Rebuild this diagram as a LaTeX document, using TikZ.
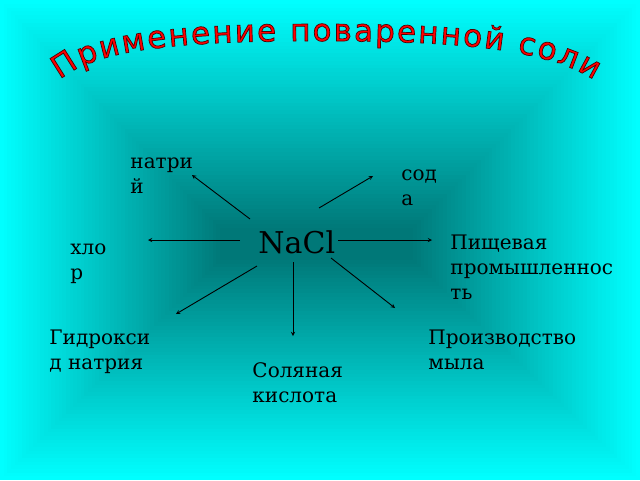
\documentclass[tikz,border=0pt]{standalone}
\usepackage{fontspec}
\setmainfont{DejaVu Serif}
\newfontfamily\titlefont{DejaVu Sans}
\usetikzlibrary{decorations.text}
\definecolor{bgcore}{RGB}{0,120,120}
\definecolor{bgedge}{RGB}{0,255,255}
\definecolor{titlered}{RGB}{255,0,0}
\newcommand{\outlinetext}{\special{pdf:literal direct 0.3 0 0 RG 2 Tr 0.7 w}}

\begin{document}
\begin{tikzpicture}[>=stealth, x=1pt, y=-1pt, line width=0.9pt,
    lbl/.style={anchor=base west, inner sep=0pt, align=left, font=\fontsize{20}{25}\selectfont}]
        \useasboundingbox (0,0) rectangle (640,480);
        \foreach \i in {0,...,60}{
          \pgfmathsetmacro\fr{\i/60}
          \pgfmathsetmacro\pc{100*\fr}
          \fill[bgcore!\pc!bgedge] (220*\fr,228*\fr) rectangle (640-227*\fr,480-220*\fr);
        }
        \path[decorate, decoration={text along path, text align=fit to path,
            text={|\titlefont\fontsize{31}{31}\selectfont\color{titlered}\outlinetext|Применение поваренной соли}}]
          (60,80) .. controls (96,49) and (180,41) .. (320,41) .. controls (460,41) and (546,49) .. (594,80);
        \node[anchor=base west, inner sep=0pt, font=\fontsize{30}{36}\selectfont] (nacl) at (258,253) {NaCl};
        \node[lbl] (natrij) at (130,193) {натри\\й};
        \node[lbl] (soda) at (401,205) {сод\\а};
        \node[lbl] (hlor) at (70,279) {хло\\р};
        \node[lbl] (pishch) at (450,299) {Пищевая\\промышленнос\\ть};
        \node[lbl] (gidr) at (49,369) {Гидрокси\\д натрия};
        \node[lbl] (kisl) at (252,402) {Соляная\\кислота};
        \node[lbl] (mylo) at (428,369) {Производство\\мыла};
        \coordinate (a1) at (250,219); \coordinate (b1) at (192,175);
        \coordinate (a2) at (319,208); \coordinate (b2) at (373,176);
        \coordinate (a3) at (240,240); \coordinate (b3) at (148,240);
        \coordinate (a4) at (338,240); \coordinate (b4) at (432,240);
        \coordinate (a5) at (257,266); \coordinate (b5) at (176,314);
        \coordinate (a6) at (293,262); \coordinate (b6) at (293,336);
        \coordinate (a7) at (331,258); \coordinate (b7) at (395,308);
        \foreach \k in {1,...,7}
          \draw[->] (a\k) -- (b\k);
      \end{tikzpicture}
\end{document}
